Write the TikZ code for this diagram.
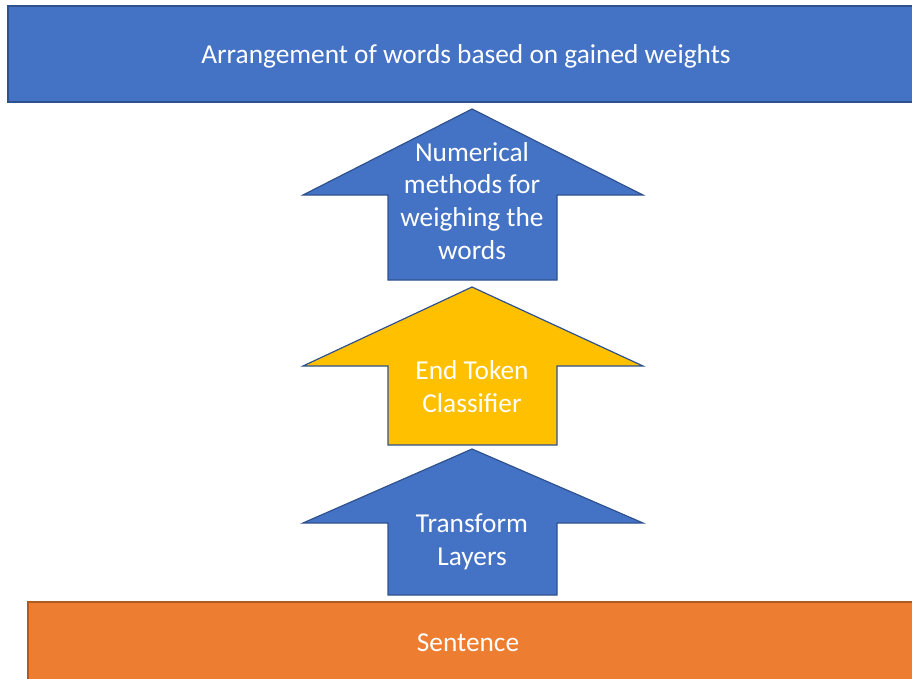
\documentclass[tikz,border=0pt]{standalone}
\usepackage{fontspec}
\setmainfont{Carlito}
\definecolor{boxblue}{HTML}{4472C4}
\definecolor{edgeblue}{HTML}{2F528F}
\definecolor{boxorange}{HTML}{ED7D31}
\definecolor{edgeorange}{HTML}{AE5A21}
\definecolor{boxgold}{HTML}{FFC000}
\begin{document}
\begin{tikzpicture}[x=0.75pt,y=-0.75pt,
  label/.style={text=white,font=\fontsize{20.5}{24.6}\selectfont,align=center,inner sep=0pt},
  bluefill/.style={fill=boxblue,draw=edgeblue,line width=0.9pt},
  goldfill/.style={fill=boxgold,draw=edgeblue,line width=0.9pt},
  orangefill/.style={fill=boxorange,draw=edgeorange,line width=0.9pt}]
\useasboundingbox (0,0) rectangle (912,678);
% top result bar
\draw[bluefill] (8,6) rectangle (914,102);
\node[label] (result) at (466,56) {Arrangement of words based on gained weights};
% block arrows, bottom to top
\draw[bluefill] (388,595) -- (388,523) -- (303,523) -- (472,449) -- (643,523) -- (557,523) -- (557,595) -- cycle;
\node[label] (transform) at (472,542) {Transform\\Layers};
\draw[goldfill] (388,445) -- (388,366) -- (303,366) -- (472,287) -- (643,366) -- (557,366) -- (557,445) -- cycle;
\node[label] (classifier) at (472,387) {End Token\\Classifier};
\draw[bluefill] (388,280) -- (388,195) -- (303,195) -- (472,109) -- (643,195) -- (557,195) -- (557,280) -- cycle;
\node[label] (weighing) at (472,201) {Numerical\\methods for\\weighing the\\words};
% input bar
\draw[orangefill] (28,602) rectangle (914,690);
\node[label] (sentence) at (468,643) {Sentence};
\end{tikzpicture}
\end{document}
